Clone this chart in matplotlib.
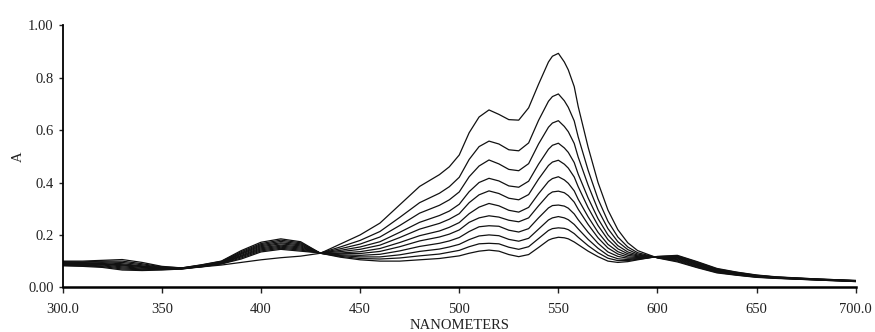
import matplotlib
matplotlib.use("Agg")
import matplotlib.pyplot as plt

# Longitudes de onda (nm) a las que se leyeron los espectros
wl = [300, 310, 320, 330, 340, 350, 360, 370, 380, 390, 400, 410, 420, 430,
      440, 450, 460, 470, 480, 490, 495, 500,
      505, 510, 515, 520, 525, 530, 535, 540, 545, 547, 550, 553, 555, 558, 560,
      565, 570, 575, 580, 585, 590,
      600, 610, 620, 630, 640, 650, 660, 680, 700]

# Absorbancia de cada barrido (de mayor a menor pico en 550 nm)
scan01 = [0.092, 0.090, 0.088, 0.085, 0.080, 0.075, 0.073, 0.078, 0.085, 0.095, 0.105, 0.113, 0.119, 0.130,
          0.165, 0.200, 0.245, 0.315, 0.385, 0.430, 0.460, 0.505,
          0.590, 0.650, 0.677, 0.660, 0.640, 0.638, 0.685, 0.775, 0.860, 0.882, 0.893, 0.860, 0.830, 0.766, 0.690,
          0.535, 0.400, 0.295, 0.220, 0.170, 0.140,
          0.112, 0.097, 0.075, 0.055, 0.046, 0.038, 0.034, 0.028, 0.022]
scan02 = [0.082, 0.080, 0.076, 0.066, 0.064, 0.066, 0.070, 0.078, 0.089, 0.108, 0.135, 0.145, 0.138, 0.131,
          0.154, 0.179, 0.213, 0.267, 0.323, 0.359, 0.384, 0.420,
          0.488, 0.537, 0.558, 0.547, 0.525, 0.521, 0.551, 0.637, 0.710, 0.728, 0.738, 0.712, 0.687, 0.635, 0.574,
          0.447, 0.337, 0.252, 0.192, 0.154, 0.132,
          0.113, 0.100, 0.077, 0.057, 0.047, 0.039, 0.035, 0.028, 0.022]
scan03 = [0.084, 0.082, 0.079, 0.070, 0.067, 0.068, 0.070, 0.079, 0.090, 0.112, 0.139, 0.149, 0.142, 0.131,
          0.147, 0.165, 0.192, 0.236, 0.283, 0.313, 0.334, 0.364,
          0.422, 0.463, 0.486, 0.471, 0.450, 0.445, 0.472, 0.547, 0.611, 0.627, 0.636, 0.614, 0.594, 0.549, 0.497,
          0.390, 0.296, 0.224, 0.174, 0.144, 0.127,
          0.113, 0.103, 0.080, 0.059, 0.048, 0.040, 0.035, 0.029, 0.023]
scan04 = [0.086, 0.084, 0.082, 0.074, 0.070, 0.070, 0.071, 0.080, 0.092, 0.116, 0.143, 0.153, 0.146, 0.131,
          0.141, 0.154, 0.174, 0.210, 0.248, 0.274, 0.291, 0.317,
          0.365, 0.400, 0.416, 0.406, 0.387, 0.382, 0.405, 0.470, 0.527, 0.542, 0.550, 0.532, 0.515, 0.476, 0.432,
          0.341, 0.262, 0.200, 0.159, 0.135, 0.123,
          0.114, 0.106, 0.082, 0.060, 0.050, 0.041, 0.036, 0.029, 0.023]
scan05 = [0.088, 0.086, 0.085, 0.078, 0.073, 0.071, 0.071, 0.080, 0.093, 0.119, 0.147, 0.157, 0.150, 0.131,
          0.136, 0.145, 0.161, 0.190, 0.222, 0.244, 0.260, 0.281,
          0.323, 0.353, 0.368, 0.358, 0.340, 0.334, 0.354, 0.413, 0.465, 0.478, 0.485, 0.470, 0.455, 0.421, 0.384,
          0.304, 0.236, 0.182, 0.147, 0.128, 0.120,
          0.114, 0.109, 0.084, 0.062, 0.051, 0.042, 0.036, 0.030, 0.024]
scan06 = [0.090, 0.088, 0.088, 0.082, 0.076, 0.072, 0.072, 0.081, 0.094, 0.122, 0.151, 0.161, 0.154, 0.130,
          0.131, 0.136, 0.148, 0.171, 0.197, 0.215, 0.229, 0.247,
          0.281, 0.306, 0.320, 0.311, 0.294, 0.287, 0.305, 0.357, 0.404, 0.415, 0.422, 0.410, 0.397, 0.368, 0.336,
          0.269, 0.210, 0.164, 0.136, 0.122, 0.117,
          0.115, 0.112, 0.087, 0.063, 0.052, 0.042, 0.037, 0.030, 0.024]
scan07 = [0.092, 0.090, 0.091, 0.086, 0.079, 0.073, 0.072, 0.082, 0.095, 0.126, 0.155, 0.166, 0.158, 0.130,
          0.128, 0.129, 0.137, 0.155, 0.177, 0.192, 0.203, 0.219,
          0.248, 0.265, 0.273, 0.268, 0.256, 0.250, 0.265, 0.311, 0.354, 0.364, 0.367, 0.361, 0.350, 0.325, 0.298,
          0.240, 0.189, 0.150, 0.127, 0.116, 0.114,
          0.115, 0.114, 0.089, 0.065, 0.053, 0.043, 0.037, 0.030, 0.024]
scan08 = [0.094, 0.092, 0.094, 0.090, 0.082, 0.074, 0.073, 0.083, 0.096, 0.129, 0.159, 0.170, 0.162, 0.130,
          0.124, 0.122, 0.126, 0.139, 0.156, 0.168, 0.177, 0.190,
          0.213, 0.231, 0.235, 0.233, 0.218, 0.211, 0.224, 0.265, 0.303, 0.312, 0.314, 0.310, 0.302, 0.280, 0.258,
          0.210, 0.168, 0.135, 0.118, 0.111, 0.111,
          0.116, 0.116, 0.091, 0.067, 0.054, 0.044, 0.038, 0.031, 0.025]
scan09 = [0.096, 0.095, 0.097, 0.095, 0.086, 0.076, 0.073, 0.084, 0.097, 0.132, 0.163, 0.175, 0.166, 0.130,
          0.121, 0.116, 0.116, 0.124, 0.137, 0.146, 0.154, 0.164,
          0.182, 0.196, 0.200, 0.197, 0.183, 0.176, 0.187, 0.222, 0.257, 0.265, 0.270, 0.265, 0.258, 0.240, 0.223,
          0.183, 0.149, 0.122, 0.109, 0.106, 0.109,
          0.117, 0.118, 0.093, 0.068, 0.055, 0.045, 0.039, 0.031, 0.025]
scan10 = [0.098, 0.097, 0.100, 0.100, 0.090, 0.078, 0.074, 0.085, 0.099, 0.136, 0.167, 0.180, 0.170, 0.130,
          0.118, 0.110, 0.108, 0.112, 0.120, 0.127, 0.134, 0.141,
          0.155, 0.166, 0.168, 0.166, 0.153, 0.145, 0.155, 0.186, 0.217, 0.224, 0.227, 0.225, 0.220, 0.205, 0.191,
          0.159, 0.132, 0.111, 0.102, 0.102, 0.107,
          0.117, 0.120, 0.096, 0.070, 0.057, 0.046, 0.039, 0.032, 0.026]
scan11 = [0.100, 0.100, 0.103, 0.106, 0.095, 0.080, 0.074, 0.086, 0.100, 0.140, 0.172, 0.185, 0.174, 0.130,
          0.115, 0.105, 0.100, 0.100, 0.105, 0.110, 0.115, 0.120,
          0.130, 0.138, 0.142, 0.138, 0.125, 0.117, 0.125, 0.152, 0.180, 0.186, 0.191, 0.189, 0.185, 0.173, 0.163,
          0.138, 0.117, 0.100, 0.095, 0.098, 0.105,
          0.118, 0.122, 0.098, 0.072, 0.058, 0.047, 0.040, 0.032, 0.026]

scans = [scan01, scan02, scan03, scan04, scan05, scan06,
         scan07, scan08, scan09, scan10, scan11]

xticks = [300, 350, 400, 450, 500, 550, 600, 650, 700]
xticklabels = ["300.0", "350", "400", "450", "500", "550", "600", "650", "700.0"]
yticks = [0.0, 0.2, 0.4, 0.6, 0.8, 1.0]
yticklabels = ["0.00", "0.2", "0.4", "0.6", "0.8", "1.00"]

plt.rcParams["font.family"] = ["Liberation Serif", "DejaVu Serif"]

fig = plt.figure(figsize=(8.75, 3.32), dpi=100)
ax = fig.add_axes([0.0717, 0.1346, 0.9063, 0.7892])

for s in scans:
    ax.plot(wl, s, color="#111111", lw=0.9, solid_joinstyle="round")

ax.set_xlim(300, 700)
ax.set_ylim(0, 1.0)

# Solo ejes izquierdo e inferior
ax.spines["top"].set_visible(False)
ax.spines["right"].set_visible(False)
ax.spines["left"].set_linewidth(1.3)
ax.spines["bottom"].set_linewidth(1.8)

ax.set_xticks(xticks)
ax.set_xticklabels(xticklabels)
ax.set_yticks(yticks)
ax.set_yticklabels(yticklabels)
ax.tick_params(axis="x", direction="out", length=4, width=1.0, labelsize=10.5,
               colors="#222222", pad=7.5)
ax.tick_params(axis="y", direction="out", length=3, width=1.0, labelsize=10.5,
               colors="#222222", pad=3.5)

ax.set_xlabel("NANOMETERS", fontsize=10.5, color="#222222", labelpad=2)
ax.set_ylabel("A", fontsize=10.5, color="#222222", labelpad=2)

fig.savefig("out.png", dpi=100)
